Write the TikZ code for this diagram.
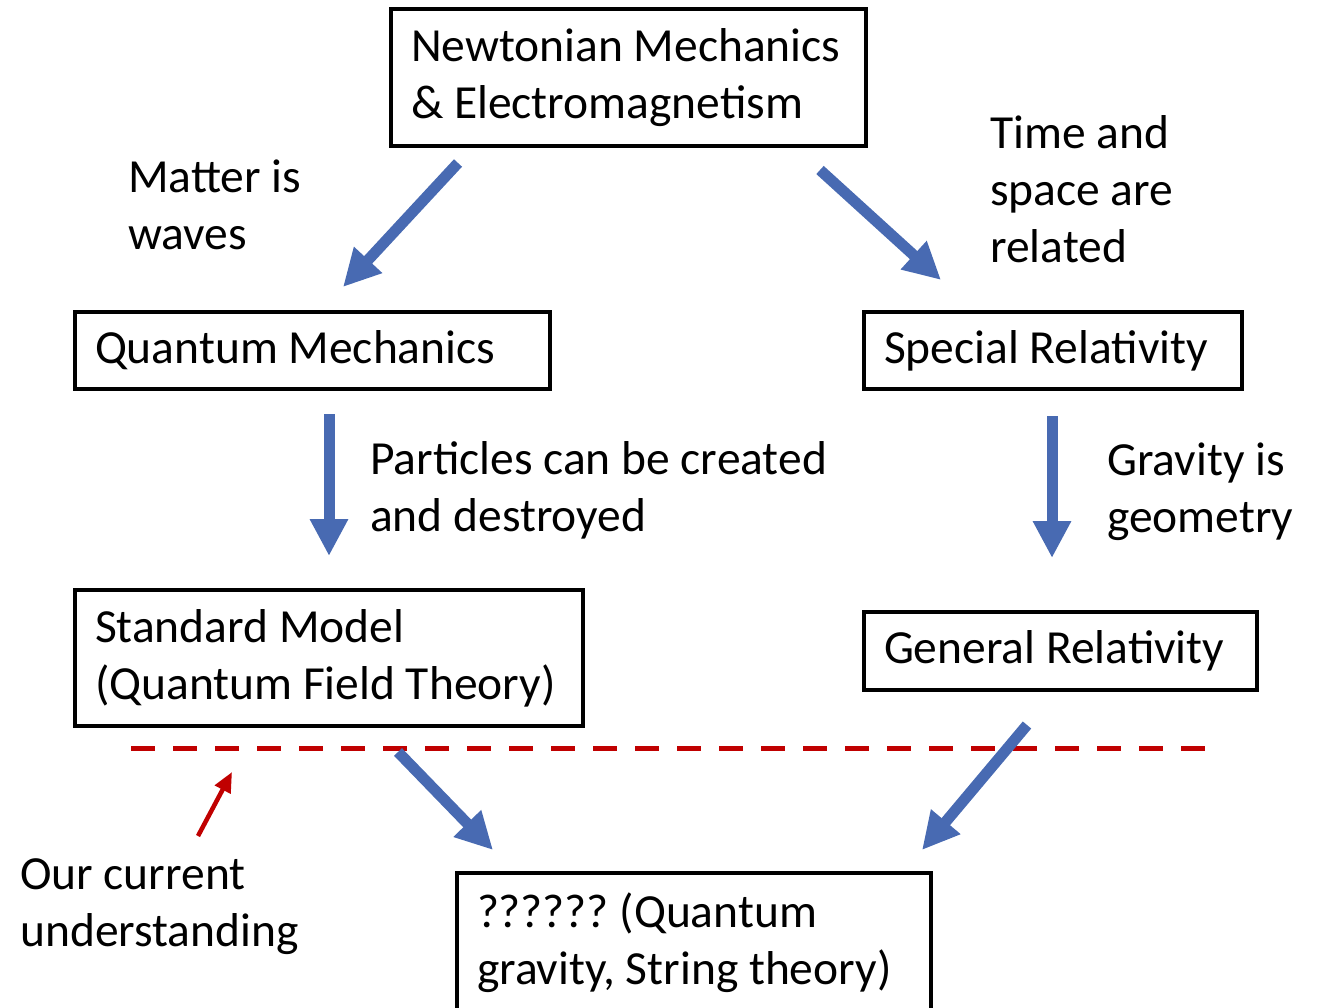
\documentclass[tikz,border=0pt]{standalone}
\usepackage{fontspec}
\setmainfont{Carlito}
\usetikzlibrary{arrows.meta}
\definecolor{flowblue}{RGB}{72,106,178}
\definecolor{nowred}{RGB}{192,0,0}
\tikzset{
  theory/.style={draw, line width=4.5pt, align=flush left, anchor=north west,
    inner xsep=20pt, inner ysep=0pt, outer sep=0pt},
  note/.style={align=flush left, anchor=west, inner sep=0pt},
  leads/.style={flowblue, line width=11pt,
    -{Triangle[length=37pt, width=36pt]}},
  today/.style={nowred, line width=5pt, dash pattern=on 24pt off 18pt},
  pointer/.style={nowred, line width=4.5pt,
    -{Triangle[length=20pt, width=17pt]}}
}
\frenchspacing

\begin{document}
\begin{tikzpicture}[x=1pt, y=-1pt, font=\fontsize{47.5}{57}\selectfont]
  \useasboundingbox (0,0) rectangle (1319,1008);

  % -- theories --
  \node[theory, text width=435pt, minimum height=137pt] (newton) at (391,9)
    {Newtonian Mechanics\\\& Electromagnetism};
  \node[theory, text width=435pt, minimum height=77pt] (qm) at (75,312)
    {Quantum Mechanics};
  \node[theory, text width=338pt, minimum height=77pt] (sr) at (864,312)
    {Special Relativity};
  \node[theory, text width=468pt, minimum height=136pt] (sm) at (75,590)
    {Standard Model\\(Quantum Field Theory)};
  \node[theory, text width=353pt, minimum height=78pt] (gr) at (864,612)
    {General Relativity};
  \node[theory, text width=434pt, minimum height=140pt] (qg) at (457,873)
    {?????? (Quantum\\gravity, String theory)};

  % -- labels --
  \node[note] (matter) at (128,205) {Matter is\\waves};
  \node[note] (spacetime) at (990,189) {Time and\\space are\\related};
  \node[note] (created) at (370,490) {Particles can be created\\and destroyed};
  \node[note] (geometry) at (1107,492) {Gravity is\\geometry};
  \node[note] (current) at (20,907) {Our current\\understanding};

  % -- arrow ends --
  \coordinate (n-from) at (458,163);  \coordinate (n-to) at (343,287);
  \coordinate (s-from) at (820,170);  \coordinate (s-to) at (941,280);
  \coordinate (q-from) at (329,414);  \coordinate (q-to) at (329,556);
  \coordinate (r-from) at (1052,416); \coordinate (r-to) at (1052,558);
  \coordinate (m-from) at (398,752);  \coordinate (m-to) at (493,850);
  \coordinate (g-from) at (1027,725); \coordinate (g-to) at (922,850);
  \coordinate (cut-l) at (131,748);   \coordinate (cut-r) at (1207,748);
  \coordinate (p-from) at (198,836);  \coordinate (p-to) at (232,772);

  % red line: what we know so far
  \draw[today] (cut-l) -- (cut-r);
  \draw[pointer] (p-from) -- (p-to);

  \draw[leads] (n-from) -- (n-to);
  \draw[leads] (s-from) -- (s-to);
  \draw[leads] (q-from) -- (q-to);
  \draw[leads] (r-from) -- (r-to);
  \draw[leads] (m-from) -- (m-to);
  \draw[leads] (g-from) -- (g-to);

\end{tikzpicture}
\end{document}
